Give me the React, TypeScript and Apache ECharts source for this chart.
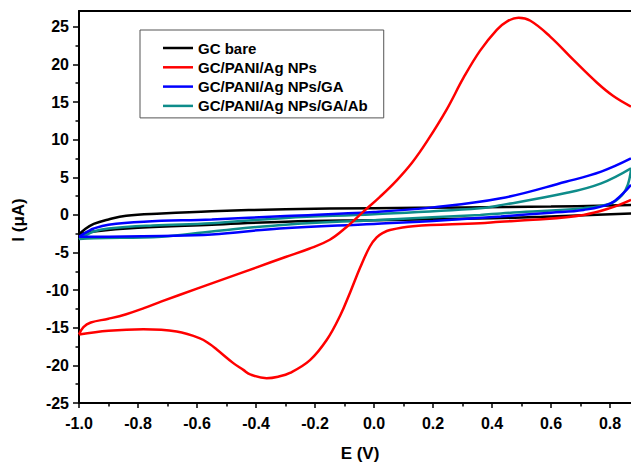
import { useEffect, useRef } from "react";
import * as echarts from "echarts";

// Curve names (legend order)
const names = ["GC bare", "GC/PANI/Ag NPs", "GC/PANI/Ag NPs/GA", "GC/PANI/Ag NPs/GA/Ab"];
const colors = ["#000000", "#ff0000", "#0000ff", "#0e8c8a"];

// Tick values
const xTickValues = [-1.0, -0.8, -0.6, -0.4, -0.2, 0.0, 0.2, 0.4, 0.6, 0.8];
const yTickValues = [-25, -20, -15, -10, -5, 0, 5, 10, 15, 20, 25];

// GC bare
const bareFwdE = [-1.0, -0.98, -0.95, -0.9, -0.84, -0.72, -0.55, -0.3, 0.0, 0.3, 0.6, 0.871];
const bareFwdI = [-2.6, -1.9, -1.2, -0.6, -0.1, 0.2, 0.5, 0.75, 0.9, 1.0, 1.1, 1.3];
const bareRevE = [0.871, 0.6, 0.4, 0.0, -0.3, -0.55, -0.8, -0.95, -1.0];
const bareRevI = [0.2, -0.2, -0.45, -0.7, -0.9, -1.3, -1.7, -2.2, -2.6];

// GC/PANI/Ag NPs
const pFwdE = [-1.0, -0.985, -0.96, -0.9, -0.84, -0.78, -0.72, -0.6, -0.5, -0.4, -0.3, -0.22, -0.15, -0.093, -0.037, 0.02, 0.077, 0.13, 0.18, 0.246, 0.303, 0.359, 0.416, 0.45, 0.49, 0.53, 0.597, 0.676, 0.755, 0.811, 0.871];
const pFwdI = [-15.9, -14.9, -14.3, -13.8, -13.2, -12.4, -11.5, -9.8, -8.4, -7.0, -5.6, -4.5, -3.3, -1.6, 0.4, 2.4, 4.6, 7.0, 9.8, 14.0, 18.2, 21.8, 24.6, 25.7, 26.2, 25.8, 23.7, 20.6, 17.6, 15.8, 14.4];
const pRevE = [0.871, 0.8, 0.71, 0.539, 0.427, 0.359, 0.132, 0.054, 0.03, 0.009, -0.014, -0.047, -0.08, -0.115, -0.16, -0.217, -0.285, -0.325, -0.364, -0.42, -0.443, -0.477, -0.533, -0.556, -0.59, -0.669, -0.782, -0.9, -1.0];
const pRevI = [2.0, 0.9, 0.0, -0.66, -0.9, -1.1, -1.5, -2.0, -2.4, -3.0, -4.2, -7.0, -10.2, -13.4, -16.6, -19.3, -21.0, -21.5, -21.7, -21.2, -20.6, -19.7, -17.9, -17.2, -16.4, -15.5, -15.2, -15.4, -15.9];

// GC/PANI/Ag NPs/GA
const gaFwdE = [-1.0, -0.97, -0.95, -0.9, -0.78, -0.55, -0.3, 0.0, 0.2, 0.43, 0.65, 0.77, 0.871];
const gaFwdI = [-2.9, -2.2, -1.8, -1.3, -0.9, -0.6, -0.15, 0.4, 1.0, 2.2, 4.4, 5.75, 7.5];
const gaRevE = [0.871, 0.845, 0.8, 0.71, 0.6, 0.43, 0.2, 0.0, -0.32, -0.55, -0.72, -0.95, -1.0];
const gaRevI = [4.0, 2.9, 1.5, 0.66, 0.3, -0.2, -0.8, -1.2, -1.8, -2.6, -2.8, -2.9, -2.9];

// GC/PANI/Ag NPs/GA/Ab
const abFwdE = [-1.0, -0.95, -0.9, -0.75, -0.55, -0.3, 0.0, 0.36, 0.43, 0.65, 0.77, 0.871];
const abFwdI = [-3.2, -2.2, -1.8, -1.4, -1.1, -0.4, 0.1, 0.9, 1.3, 2.9, 4.2, 6.2];
const abRevE = [0.871, 0.86, 0.84, 0.8, 0.71, 0.43, 0.36, 0.0, -0.3, -0.55, -0.72, -0.95, -1.0];
const abRevI = [6.0, 4.0, 2.6, 1.5, 0.9, 0.2, 0.0, -0.7, -1.3, -2.2, -2.9, -3.1, -3.2];

const pairs = (e: number[], i: number[]) => e.map((v, k) => [v, i[k]]);

const FONT = "'Liberation Sans', Arial, sans-serif";

export default function App() {
  const ref = useRef<HTMLDivElement>(null);
  useEffect(() => {
    if (!ref.current) return;
    const chart = echarts.init(ref.current, undefined, { renderer: "svg" });
    const mk = (name: string, color: string, data: number[][]) => ({
      type: "line",
      name,
      data,
      color,
      showSymbol: false,
      symbol: "none",
      smooth: 0.4,
      lineStyle: { width: 2.5, color },
      clip: true,
    });
    const series = [
      mk(names[0], colors[0], pairs(bareFwdE, bareFwdI)),
      mk(names[0], colors[0], pairs(bareRevE, bareRevI)),
      mk(names[3], colors[3], pairs(abFwdE, abFwdI)),
      mk(names[3], colors[3], pairs(abRevE, abRevI)),
      mk(names[2], colors[2], pairs(gaFwdE, gaFwdI)),
      mk(names[2], colors[2], pairs(gaRevE, gaRevI)),
      mk(names[1], colors[1], pairs(pFwdE, pFwdI)),
      mk(names[1], colors[1], pairs(pRevE, pRevI)),
    ];
    chart.setOption({
      animation: false,
      backgroundColor: "#ffffff",
      grid: { left: 79, right: 0, top: 11, bottom: 60, containLabel: false },
      legend: {
        orient: "vertical",
        left: 140,
        top: 30,
        data: names,
        icon: "rect",
        itemWidth: 30,
        itemHeight: 2.5,
        itemGap: 4.3,
        padding: [10.5, 16, 4.5, 23],
        borderColor: "#555",
        borderWidth: 1,
        selectedMode: false,
        textStyle: { fontSize: 15, fontWeight: "bold", color: "#000", fontFamily: FONT },
      },
      xAxis: [
        {
          type: "value",
          min: -1.0,
          max: 0.871,
          interval: 0.2,
          position: "bottom",
          splitLine: { show: false },
          axisLine: { onZero: false, lineStyle: { color: "#000", width: 2 } },
          axisTick: { length: 5, lineStyle: { color: "#000", width: 1.5 }, customValues: xTickValues },
          minorTick: { show: true, splitNumber: 2, length: 3.5, lineStyle: { color: "#000", width: 1.5 } },
          axisLabel: {
            margin: 12,
            fontSize: 16,
            fontWeight: "bold",
            color: "#000",
            fontFamily: FONT,
            showMaxLabel: false,
            formatter: (v: number) => v.toFixed(1),
          },
        },
        {
          type: "value",
          min: -1.0,
          max: 0.871,
          position: "top",
          splitLine: { show: false },
          axisLine: { onZero: false, lineStyle: { color: "#000", width: 2 } },
          axisTick: { show: false },
          axisLabel: { show: false },
        },
      ],
      yAxis: {
        type: "value",
        min: -25,
        max: 27.1,
        interval: 5,
        splitLine: { show: false },
        axisLine: { onZero: false, lineStyle: { color: "#000", width: 2 } },
        axisTick: { length: 6, lineStyle: { color: "#000", width: 1.5 }, customValues: yTickValues },
        minorTick: { show: true, splitNumber: 2, length: 3.5, lineStyle: { color: "#000", width: 1.5 } },
        axisLabel: {
          margin: 10,
          fontSize: 16,
          fontWeight: "bold",
          color: "#000",
          fontFamily: FONT,
          showMaxLabel: false,
        },
      },
      graphic: [
        {
          type: "text",
          x: 360,
          y: 453,
          style: {
            text: "E (V)",
            font: `bold 17px ${FONT}`,
            fill: "#000",
            textAlign: "center",
            textVerticalAlign: "middle",
            align: "center",
            verticalAlign: "middle",
          },
        },
        {
          type: "text",
          x: 18,
          y: 220,
          rotation: Math.PI / 2,
          style: {
            text: "I (μA)",
            font: `bold 17px ${FONT}`,
            fill: "#000",
            textAlign: "center",
            textVerticalAlign: "middle",
            align: "center",
            verticalAlign: "middle",
          },
        },
      ],
      series,
    });
    return () => chart.dispose();
  }, []);
  return (
    <div
      ref={ref}
      style={{ position: "fixed", left: 0, top: 0, width: 631, height: 463, background: "#fff" }}
    />
  );
}
